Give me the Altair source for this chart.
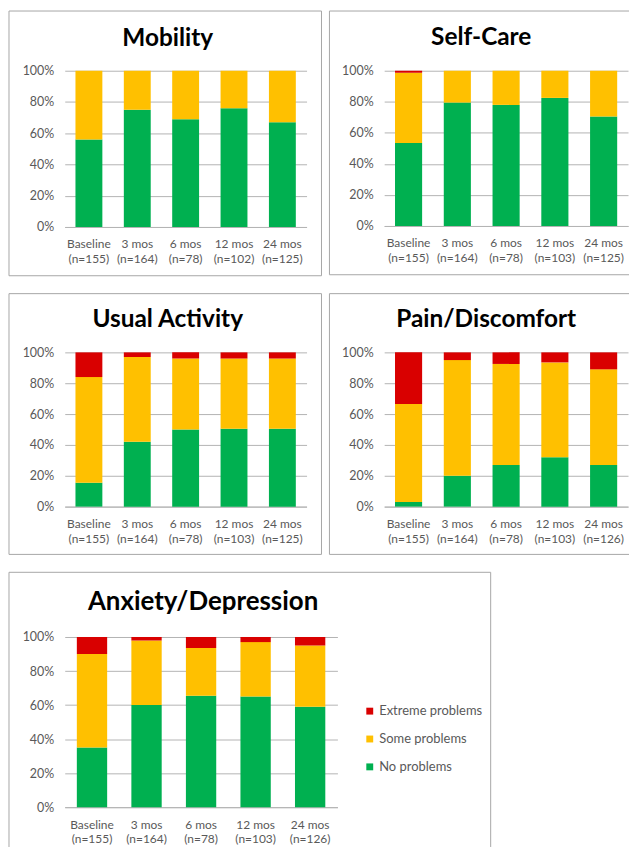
import altair as alt
import pandas as pd

periods = ["Baseline", "3 mos", "6 mos", "12 mos", "24 mos"]
levels = ["Extreme problems", "Some problems", "No problems"]
level_colors = ["#D90000", "#FFC000", "#00B050"]

mobility_n = [155, 164, 78, 102, 125]
mobility_no = [56, 75, 69, 76, 67]
mobility_some = [44, 25, 31, 24, 33]
mobility_ext = [0, 0, 0, 0, 0]

selfcare_n = [155, 164, 78, 103, 125]
selfcare_no = [53.5, 79.5, 78, 82.5, 70.5]
selfcare_some = [45.2, 20.5, 22, 17.5, 29.5]
selfcare_ext = [1.3, 0, 0, 0, 0]

usual_n = [155, 164, 78, 103, 125]
usual_no = [15.5, 42, 50, 50.5, 50.5]
usual_some = [68.5, 55, 46, 45.5, 45.5]
usual_ext = [16, 3, 4, 4, 4]

pain_n = [155, 164, 78, 103, 126]
pain_no = [3, 20, 27, 32, 27]
pain_some = [63.5, 75, 65.5, 61.5, 62]
pain_ext = [33.5, 5, 7.5, 6.5, 11]

anx_n = [155, 164, 78, 103, 126]
anx_no = [35, 60, 65.5, 65, 59]
anx_some = [55, 38, 28, 32, 36]
anx_ext = [10, 2, 6.5, 3, 5]

y_ticks = [0, 20, 40, 60, 80, 100]

FONT = "Lato"
LABEL_COLOR = "#595959"
GRID = "#B3B3B3"
FRAME = "#A6A6A6"


def make_df(ns, no, some, ext):
    rows = []
    for i, p in enumerate(periods):
        cat = f"{p}|(n={ns[i]})"
        for rank, (lvl, vals) in enumerate(
            [("No problems", no), ("Some problems", some), ("Extreme problems", ext)]
        ):
            rows.append({"cat": cat, "level": lvl, "rank": rank, "value": vals[i]})
    return pd.DataFrame(rows)


def frame_rules(W, H, fr, sides):
    one = alt.Data(values=[{"k": 1}])
    L, R, T, B = -fr[0], W + fr[1], -fr[2], H + fr[3]
    base = alt.Chart(one).mark_rule(color=FRAME, strokeWidth=1)
    out = []
    if "t" in sides:
        out.append(base.encode(x=alt.value(L), x2=alt.value(R), y=alt.value(T)))
    if "b" in sides:
        out.append(base.encode(x=alt.value(L), x2=alt.value(R), y=alt.value(B)))
    if "l" in sides:
        out.append(base.encode(x=alt.value(L), y=alt.value(T), y2=alt.value(B)))
    if "r" in sides:
        out.append(base.encode(x=alt.value(R), y=alt.value(T), y2=alt.value(B)))
    return out


def panel(title, ns, no, some, ext, W, H, fr, sides, title_dx, title_y, title_size,
          legend=False):
    df = make_df(ns, no, some, ext)
    cats = [f"{p}|(n={ns[i]})" for i, p in enumerate(periods)]
    one = alt.Data(values=[{"k": 1}])

    ttl = alt.Chart(one).mark_text(
        font=FONT, fontSize=title_size, fontWeight="bold", color="#000000",
        align="center", baseline="alphabetic",
    ).encode(
        x=alt.value(W / 2 + title_dx), y=alt.value(title_y), text=alt.value(title)
    )

    if legend:
        leg = alt.Legend(
            title=None, orient="none", legendX=300, legendY=68, padding=0,
            symbolType="square", symbolSize=48, symbolStrokeWidth=0,
            labelFont=FONT, labelFontSize=13, labelColor=LABEL_COLOR,
            rowPadding=14, labelOffset=3,
        )
    else:
        leg = None

    bars = alt.Chart(df).mark_bar().encode(
        x=alt.X(
            "cat:N", sort=cats, title=None,
            scale=alt.Scale(paddingInner=0.444, paddingOuter=0.222),
            axis=alt.Axis(
                labelAngle=0, labelExpr="split(datum.label, '|')",
                labelFont=FONT, labelFontSize=12, labelColor=LABEL_COLOR,
                labelLineHeight=15, labelPadding=12, ticks=False,
                domainColor=GRID, grid=False,
            ),
        ),
        y=alt.Y(
            "value:Q", stack="zero", title=None,
            scale=alt.Scale(domain=[0, 100], nice=False),
            axis=alt.Axis(
                values=y_ticks, labelExpr="datum.value + '%'",
                labelFont=FONT, labelFontSize=12.5, labelColor=LABEL_COLOR,
                labelPadding=11, ticks=False, domain=False,
                grid=True, gridColor=GRID,
            ),
        ),
        color=alt.Color(
            "level:N", scale=alt.Scale(domain=levels, range=level_colors), legend=leg
        ),
        order=alt.Order("rank:Q", sort="ascending"),
    )

    layers = frame_rules(W, H, fr, sides) + [bars, ttl]
    return alt.layer(*layers).properties(width=W, height=H)


p1 = panel("Mobility", mobility_n, mobility_no, mobility_some, mobility_ext,
           243, 157, (56, 15, 60, 49), "tblr", -18, -25, 24.5)
p2 = panel("Self-Care", selfcare_n, selfcare_no, selfcare_some, selfcare_ext,
           245, 156, (55, 1, 60, 49), "tbl", -25, -26, 24.5)
p3 = panel("Usual Activity", usual_n, usual_no, usual_some, usual_ext,
           243, 155, (56, 15, 59, 48), "tblr", -18, -25, 24.5)
p4 = panel("Pain/Discomfort", pain_n, pain_no, pain_some, pain_ext,
           245, 155, (55, 1, 59, 48), "tbl", -20, -25, 24.5)
p5 = panel("Anxiety/Depression", anx_n, anx_no, anx_some, anx_ext,
           274, 171, (56, 154, 65, 40), "tlr", 2, -27, 26, legend=True)

row1 = alt.hconcat(p1, p2, spacing=6)
row2 = alt.hconcat(p3, p4, spacing=6)

chart = alt.vconcat(row1, row2, p5, spacing=16).resolve_scale(
    color="independent"
).resolve_legend(color="independent").properties(
    padding=0, background="white"
).configure_view(stroke=None)

chart.save("out.html", embed_options={"renderer": "svg", "actions": False})
